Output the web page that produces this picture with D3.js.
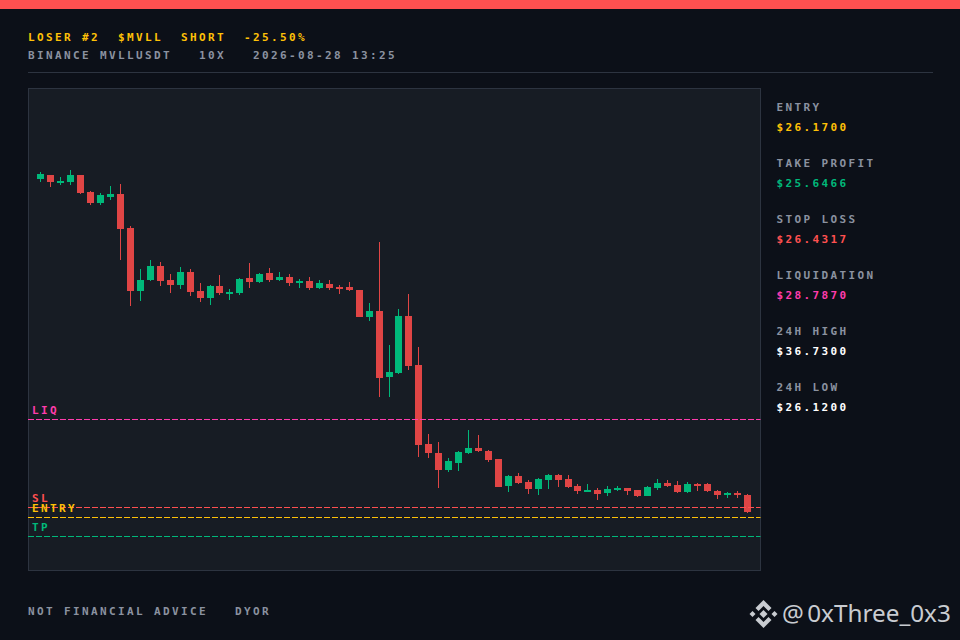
<!DOCTYPE html>
<html>
<head>
<meta charset="utf-8">
<script src="https://cdn.jsdelivr.net/npm/d3@7"></script>
<style>
html,body{margin:0;padding:0;background:#0c1018;overflow:hidden}
svg{display:block}
text{white-space:pre}
</style>
</head>
<body>
<svg id="chart"></svg>
<script>
const opens = [35.232,35.339,35.125,35.151,35.339,34.883,34.588,34.749,34.830,33.918,32.229,32.524,32.899,32.524,32.390,32.739,32.229,32.041,32.363,32.149,32.176,32.578,32.470,32.712,32.524,32.604,32.444,32.497,32.310,32.417,32.336,32.336,32.256,31.532,31.693,29.923,30.031,31.559,30.245,28.127,27.886,27.430,27.618,27.886,28.020,27.939,27.725,27.001,27.269,27.108,26.921,27.162,27.296,27.189,27.001,26.840,26.894,26.813,26.894,26.948,26.894,26.733,26.948,27.081,27.028,26.840,27.055,27.055,26.867,26.760,26.813,26.760]
const highs = [35.419,35.339,35.285,35.473,35.339,34.910,34.857,35.044,35.098,33.971,32.819,33.060,33.006,32.685,32.872,32.819,32.444,32.390,32.658,32.283,32.578,32.980,32.712,32.846,32.739,32.685,32.551,32.604,32.524,32.524,32.390,32.470,32.256,31.907,33.542,30.781,31.746,32.149,30.728,28.395,28.181,27.752,27.939,28.502,28.368,27.966,27.725,27.296,27.350,27.162,27.216,27.323,27.323,27.296,27.055,27.055,26.948,27.001,27.001,26.948,26.894,27.001,27.189,27.162,27.135,27.108,27.081,27.081,26.894,26.840,26.867,26.787]
const lows = [35.151,35.017,35.071,35.071,34.830,34.535,34.535,34.669,33.060,31.827,31.961,32.497,32.363,32.176,32.283,32.095,31.934,31.854,32.122,31.988,32.122,32.310,32.444,32.470,32.497,32.363,32.310,32.256,32.283,32.256,32.149,32.229,31.532,31.424,29.387,29.387,30.004,30.111,27.778,27.752,26.948,27.376,27.403,27.859,27.913,27.645,26.974,26.840,27.055,26.787,26.760,26.921,26.974,26.948,26.787,26.840,26.626,26.733,26.867,26.760,26.706,26.733,26.894,26.974,26.813,26.813,26.867,26.840,26.653,26.679,26.679,26.277]
const closes = [35.366,35.151,35.178,35.339,34.857,34.588,34.803,34.830,33.891,32.229,32.524,32.899,32.497,32.390,32.739,32.202,32.041,32.363,32.176,32.202,32.551,32.470,32.685,32.524,32.604,32.444,32.497,32.310,32.444,32.310,32.283,32.256,31.532,31.693,29.896,30.057,31.559,30.218,28.100,27.886,27.430,27.672,27.913,28.020,27.939,27.698,26.974,27.269,27.081,26.921,27.189,27.296,27.162,26.974,26.867,26.894,26.787,26.921,26.948,26.867,26.733,26.974,27.081,27.001,26.840,27.055,27.001,26.867,26.760,26.813,26.760,26.304]

const levelNames = ['LIQ','SL','ENTRY','TP']
const levelPrices = [28.787,26.4317,26.17,25.6466]
const levelColors = ['#ff3cac','#ff5050','#ffc107','#00b87a']

const statLabels = ['ENTRY','TAKE PROFIT','STOP LOSS','LIQUIDATION','24H HIGH','24H LOW']
const statValues = ['$26.1700','$25.6466','$26.4317','$28.7870','$36.7300','$26.1200']
const statColors = ['#ffc107','#00b87a','#ff5050','#ff3cac','#ffffff','#ffffff']

const width = 960
const height = 640
const panel = {left:28.5,top:88.5,right:760.5,bottom:570.5}
const pixelFont = '"DejaVu Sans Mono", monospace'

const svg = d3.select('#chart').attr('width',width).attr('height',height)
svg.append('rect').attr('width',width).attr('height',height).attr('fill','#0c1018')
svg.append('rect').attr('width',width).attr('height',9).attr('fill','#ff5050')

function label(x,y,str,color,anchor){
    return svg.append('text').text(str)
    .attr('x',x).attr('y',y)
    .attr('fill',color)
    .attr('font-family',pixelFont)
    .attr('font-weight','bold')
    .attr('font-size',11)
    .attr('letter-spacing',2.38)
    .attr('text-anchor',anchor||'start')
}

// header
label(28,41,'LOSER #2  $MVLL  SHORT  -25.50%','#ffc107')
label(28,59,'BINANCE MVLLUSDT   10X   2026-08-28 13:25','#8b92a0')
svg.append('line').attr('x1',28).attr('x2',933).attr('y1',72.5).attr('y2',72.5)
.attr('stroke','#2d3440')

// panel
svg.append('rect')
.attr('x',panel.left).attr('y',panel.top)
.attr('width',panel.right-panel.left).attr('height',panel.bottom-panel.top)
.attr('fill','#171c24').attr('stroke','#2d3440')

const xScale = d3.scalePoint()
.domain(d3.range(opens.length))
.range([40.97,747.03])

const yScale = d3.scaleLinear()
.domain([37.64,24.75])
.range([89,570])

// candles
const candleColor = i => closes[i]>=opens[i] ? '#00b87a' : '#e04545'
const candles = svg.append('g').attr('shape-rendering','crispEdges')

candles.selectAll('.wick').data(d3.range(opens.length)).enter().append('rect')
.attr('class','wick')
.attr('x',i=>Math.floor(xScale(i)))
.attr('width',1)
.attr('y',i=>yScale(highs[i]))
.attr('height',i=>yScale(lows[i])-yScale(highs[i]))
.attr('fill',candleColor)

candles.selectAll('.body').data(d3.range(opens.length)).enter().append('rect')
.attr('class','body')
.attr('x',i=>Math.floor(xScale(i))-3)
.attr('width',7)
.attr('y',i=>yScale(Math.max(opens[i],closes[i])))
.attr('height',i=>Math.abs(yScale(opens[i])-yScale(closes[i])))
.attr('fill',candleColor)

// price levels
svg.append('g').selectAll('line').data(levelPrices).enter().append('line')
.attr('x1',28).attr('x2',panel.right)
.attr('y1',d=>Math.floor(yScale(d))+0.5)
.attr('y2',d=>Math.floor(yScale(d))+0.5)
.attr('stroke',(d,i)=>levelColors[i])
.attr('stroke-dasharray','6,2')

levelNames.forEach((name,i)=>{
    label(32,Math.floor(yScale(levelPrices[i]))-5,name,levelColors[i])
})

// right column
statLabels.forEach((name,i)=>{
    label(776.5,111+i*56,name,'#8b92a0')
    label(776.5,131+i*56,statValues[i],statColors[i])
})

// footer
label(28,615,'NOT FINANCIAL ADVICE   DYOR','#8b92a0')

const logo = svg.append('g')
.attr('transform','translate(763.5,614)')
.attr('fill','#c9ccd1')
logo.append('path').attr('d','M0,-14 L8,-6 L5,-3 L0,-8 L-5,-3 L-8,-6 Z')
logo.append('path').attr('d','M0,14 L8,6 L5,3 L0,8 L-5,3 L-8,6 Z')
logo.append('path').attr('d','M0,-4 L4,0 L0,4 L-4,0 Z')
logo.append('path').attr('d','M-14,0 L-11,-3 L-8,0 L-11,3 Z')
logo.append('path').attr('d','M14,0 L11,-3 L8,0 L11,3 Z')

svg.append('text').text('@ 0xThree_0x3')
.attr('x',782).attr('y',622)
.attr('fill','#c9ccd1')
.attr('font-family','"Noto Sans", sans-serif')
.attr('font-size',24.3)
.attr('word-spacing',-3)
</script>
</body>
</html>
